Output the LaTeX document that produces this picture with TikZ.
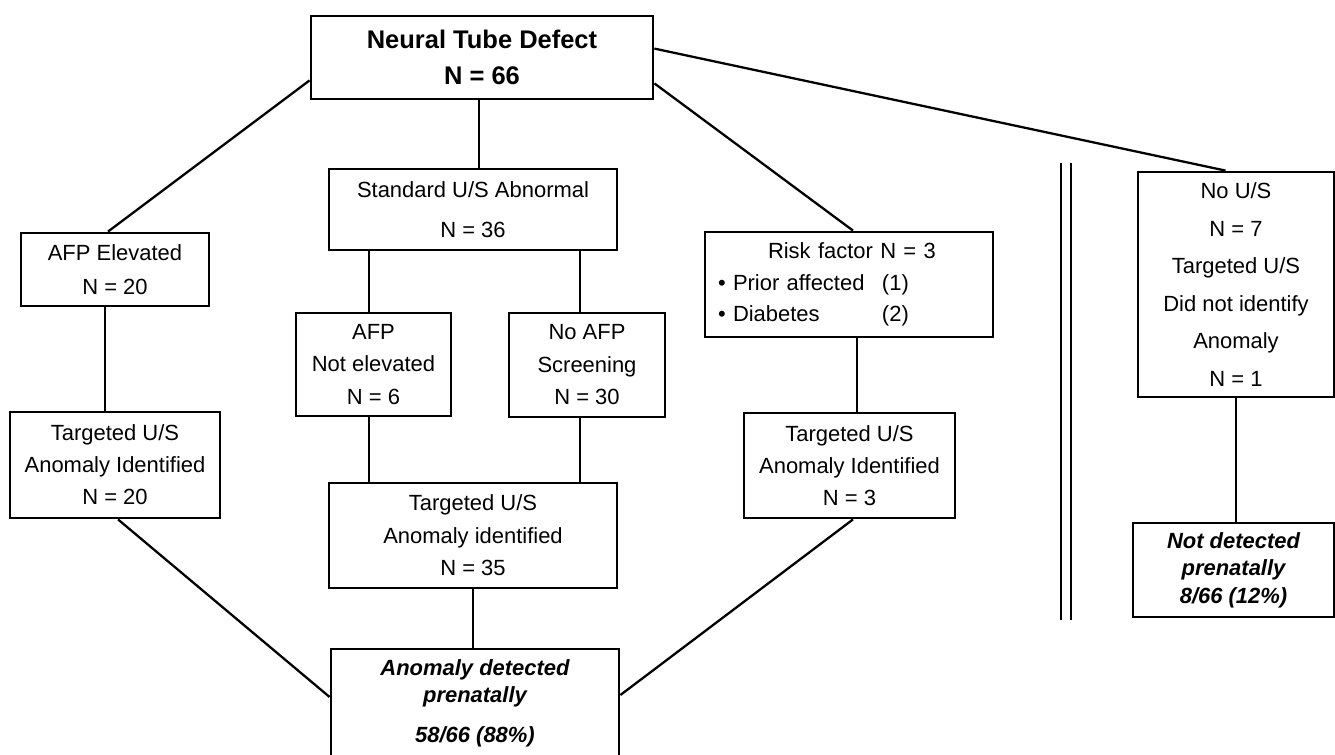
\documentclass[tikz,border=0pt]{standalone}
\usepackage{fontspec}
\setmainfont{Liberation Sans}
\newcommand{\fs}[1]{\fontsize{12.5}{#1}\selectfont}
\tikzset{
    box/.style={draw, line width=1.6pt, align=center, inner sep=0pt},
    link/.style={line width=1.3pt}
}

\begin{document}
\begin{tikzpicture}
    \useasboundingbox (0,0) rectangle (26.7,-15.1);

    \node[box, minimum width=6.84cm, minimum height=1.66cm, font=\bfseries\fontsize{14.5}{20.5}\selectfont] (ntd) at (9.64,-1.15) {Neural Tube Defect\\N = 66};
    \node[box, minimum width=5.76cm, minimum height=1.62cm, font=\fs{22.8}] (sua) at (9.46,-4.19) {Standard U/S Abnormal\\N = 36};
    \node[box, minimum width=3.76cm, minimum height=1.46cm, font=\fs{19.3}] (afpe) at (2.30,-5.39) {AFP Elevated\\N = 20};
    \node[box, minimum width=4.20cm, minimum height=2.12cm, font=\fs{18.2}] (tusl) at (2.30,-9.30) {Targeted U/S\\Anomaly Identified\\N = 20};
    \node[box, minimum width=3.10cm, minimum height=2.06cm, font=\fs{18.5}] (afpn) at (7.47,-7.29) {AFP\\Not elevated\\N = 6};
    \node[box, minimum width=3.12cm, minimum height=2.08cm, font=\fs{18.5}] (noafp) at (11.74,-7.30) {No AFP\\Screening\\N = 30};
    \node[box, minimum width=5.76cm, minimum height=2.10cm, font=\fs{18.5}] (tusm) at (9.46,-10.71) {Targeted U/S\\Anomaly identified\\N = 35};
    \node[box, minimum width=5.76cm, minimum height=2.18cm, font=\bfseries\itshape\fs{15.4}] (adp) at (9.50,-14.07) {Anomaly detected\\prenatally\\[7.4pt]58/66 (88\%)};
    \node[box, minimum width=5.76cm, minimum height=2.10cm, text width=5.24cm, align=left, inner xsep=0.26cm, font=\fs{18}] (risk) at (16.98,-5.69) {\hspace*{1cm}Risk factor N = 3\\\makebox[3.28cm][l]{• Prior affected}(1)\\\makebox[3.28cm][l]{• Diabetes}(2)};
    \node[box, minimum width=4.22cm, minimum height=2.10cm, font=\fs{18.2}] (tusr) at (16.99,-9.31) {Targeted U/S\\Anomaly Identified\\N = 3};
    \node[box, minimum width=3.92cm, minimum height=4.50cm, font=\fs{21.3}] (nous) at (24.72,-5.69) {No U/S\\N = 7\\Targeted U/S\\Did not identify\\Anomaly\\N = 1};
    \node[box, minimum width=4.02cm, minimum height=1.88cm, font=\bfseries\itshape\fs{15.6}] (notd) at (24.67,-11.40) {Not detected\\prenatally\\8/66 (12\%)};

    \draw[link] ([yshift=0.4cm]ntd.south west) -- ([xshift=-0.14cm]afpe.north);
    \draw[link] ([xshift=-0.06cm]ntd.south) -- ([xshift=-0.06cm]ntd.south |- sua.north);
    \draw[link] ([yshift=0.34cm]ntd.south east) -- ([xshift=0.08cm]risk.north);
    \draw[link] ([yshift=-0.68cm]ntd.north east) -- ([xshift=-0.21cm]nous.north);

    \draw[link] ([xshift=-0.2cm]afpe.south) -- ([xshift=-0.2cm]afpe.south |- tusl.north);
    \draw[link] ([xshift=-0.09cm]afpn.north) -- ([xshift=-0.09cm]afpn.north |- sua.south);
    \draw[link] ([xshift=-0.14cm]noafp.north) -- ([xshift=-0.14cm]noafp.north |- sua.south);
    \draw[link] ([xshift=-0.09cm]afpn.south) -- ([xshift=-0.09cm]afpn.south |- tusm.north);
    \draw[link] ([xshift=-0.14cm]noafp.south) -- ([xshift=-0.14cm]noafp.south |- tusm.north);
    \draw[link] ([xshift=0.16cm]risk.south) -- ([xshift=0.16cm]risk.south |- tusr.north);
    \draw[link] (tusm.south) -- (tusm.south |- adp.north);
    \draw[link] (nous.south) -- (nous.south |- notd.north);

    \draw[link] ([xshift=0.06cm]tusl.south) -- ([yshift=0.13cm]adp.west);
    \draw[link] ([xshift=0.07cm]tusr.south) -- ([yshift=0.17cm]adp.east);

    % divider
    \coordinate (sepTop) at (21.32,-3.26);
    \coordinate (sepBot) at (21.32,-12.40);
    \draw[line width=1.5pt, double distance=4.1pt] (sepTop) -- (sepBot);
\end{tikzpicture}
\end{document}
